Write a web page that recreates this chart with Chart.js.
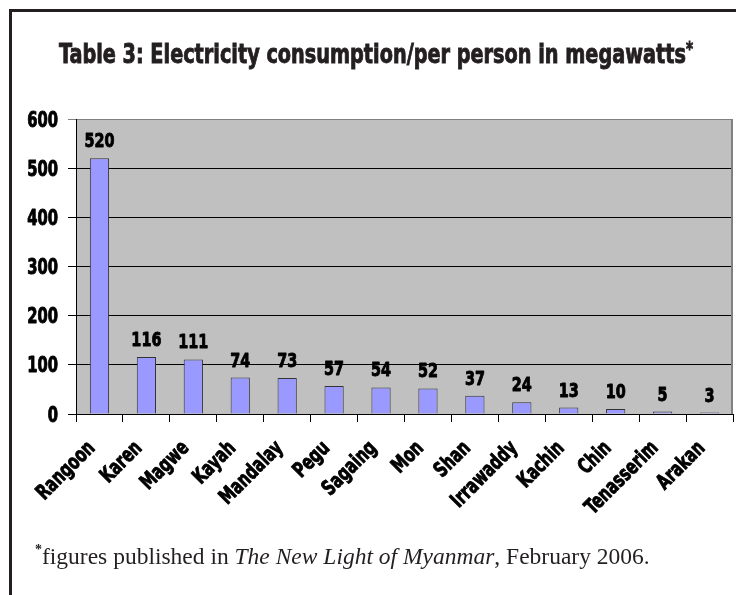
<!DOCTYPE html>
<html>
<head>
<meta charset="utf-8">
<script src="https://cdn.jsdelivr.net/npm/chart.js@4.4.1/dist/chart.umd.min.js"></script>
<style>
  html, body { margin: 0; padding: 0; background: #fff; overflow: hidden; }
  #page { position: relative; width: 736px; height: 595px; overflow: hidden; }
  #frame { position: absolute; left: 9px; top: 9px; width: 900px; height: 800px; border: 3px solid #231f20; }
  #title { position: absolute; left: 59px; top: 40px; white-space: nowrap; transform-origin: 0 0;
    font: bold 27px/27px "DejaVu Sans Condensed", "DejaVu Sans", sans-serif; color: #231f20;
    -webkit-text-stroke: 0.9px #231f20; }
  #title sup { font-size: 19px; vertical-align: 8px; line-height: 0; }
  #note { position: absolute; left: 35px; top: 544px; white-space: nowrap;
    font: 23.5px/24px "Liberation Serif", "DejaVu Serif", serif; color: #231f20; }
  #note sup { font-size: 14px; font-weight: bold; vertical-align: 10px; line-height: 0; }
  #wrap { position: absolute; left: 0; top: 0; width: 736px; height: 595px; }
</style>
</head>
<body>
<div id="page">
  <div id="frame"></div>
  <div id="wrap"><canvas id="chart"></canvas></div>
  <div id="title">Table 3: Electricity consumption/per person in megawatts<sup>*</sup></div>
  <div id="note"><sup>*</sup>figures published in <i>The New Light of Myanmar</i>, February 2006.</div>
</div>
<script>
const regions = ['Rangoon', 'Karen', 'Magwe', 'Kayah', 'Mandalay', 'Pegu', 'Sagaing', 'Mon',
  'Shan', 'Irrawaddy', 'Kachin', 'Chin', 'Tenasserim', 'Arakan'];
const consumption = [520, 116, 111, 74, 73, 57, 54, 52, 37, 24, 13, 10, 5, 3];
const yMin = 0;
const yMax = 600;
const yStep = 100;

// squeeze the title into the width the Impact heading had
const title = document.getElementById('title');
title.style.transform = 'scaleX(' + (634 / title.getBoundingClientRect().width) + ')';

const narrow = '"DejaVu Sans Condensed", "DejaVu Sans", sans-serif';

// condensed bold text, squeezed horizontally and thickened to look like Impact
function squeezed(ctx, text, x, y, opts) {
  ctx.save();
  ctx.font = 'bold ' + opts.size + 'px ' + narrow;
  ctx.fillStyle = '#000';
  ctx.strokeStyle = '#000';
  ctx.lineWidth = 0.9;
  ctx.lineJoin = 'round';
  ctx.textAlign = opts.align || 'center';
  ctx.textBaseline = 'alphabetic';
  ctx.translate(x, y);
  if (opts.angle) ctx.rotate(opts.angle);
  ctx.scale(opts.sx || 0.8, 1);
  ctx.fillText(text, 0, 0);
  ctx.strokeText(text, 0, 0);
  ctx.restore();
}

const plotBackground = {
  id: 'plotBackground',
  beforeDraw(chart) {
    const { ctx, chartArea: a } = chart;
    ctx.save();
    ctx.fillStyle = '#c0c0c0';
    ctx.fillRect(a.left, a.top, a.right - a.left, a.bottom - a.top);
    ctx.restore();
  },
  afterDraw(chart) {
    const { ctx, chartArea: a } = chart;
    ctx.save();
    ctx.strokeStyle = '#808080';
    ctx.lineWidth = 2;
    ctx.beginPath();
    ctx.moveTo(a.right - 1, a.top);
    ctx.lineTo(a.right - 1, a.bottom);
    ctx.stroke();
    ctx.restore();
  }
};

// axis labels and bar values
const labelsPlugin = {
  id: 'labelsPlugin',
  afterDraw(chart) {
    const { ctx, scales: { x, y } } = chart;
    y.ticks.forEach(t => {
      squeezed(ctx, String(t.value), y.right - 18, y.getPixelForValue(t.value) + 7.5, { size: 20.5, align: 'right' });
    });
    regions.forEach((name, i) => {
      squeezed(ctx, name, x.getPixelForTick(i) - 3.5, x.top + 35, { size: 21, align: 'right', angle: -Math.PI / 4, sx: 0.78 });
    });
    chart.getDatasetMeta(0).data.forEach((bar, i) => {
      squeezed(ctx, String(consumption[i]), bar.x, bar.y - 11, { size: 20 });
    });
  }
};

new Chart(document.getElementById('chart'), {
  type: 'bar',
  data: {
    labels: regions,
    datasets: [{
      data: consumption,
      backgroundColor: '#9999ff',
      borderColor: '#333333',
      borderWidth: 1,
      barPercentage: 0.41,
      categoryPercentage: 1
    }]
  },
  options: {
    responsive: true,
    maintainAspectRatio: false,
    animation: false,
    layout: { padding: { top: 119, left: 0, right: 3, bottom: 0 } },
    plugins: { legend: { display: false }, tooltip: { enabled: false }, title: { display: false } },
    scales: {
      x: {
        afterFit(s) { s.height = 181; },
        grid: { offset: true, drawOnChartArea: false, tickLength: 8, color: '#000', lineWidth: 1 },
        border: { color: '#000', width: 1 },
        ticks: { display: false, autoSkip: false }
      },
      y: {
        min: yMin, max: yMax,
        afterFit(s) { s.width = 76; },
        grid: {
          color: c => (c.tick && c.tick.value === yMax ? '#808080' : '#000'),
          lineWidth: 1, tickLength: 8
        },
        border: { color: '#000', width: 1 },
        ticks: { display: false, stepSize: yStep }
      }
    }
  },
  plugins: [plotBackground, labelsPlugin]
});
</script>
</body>
</html>
